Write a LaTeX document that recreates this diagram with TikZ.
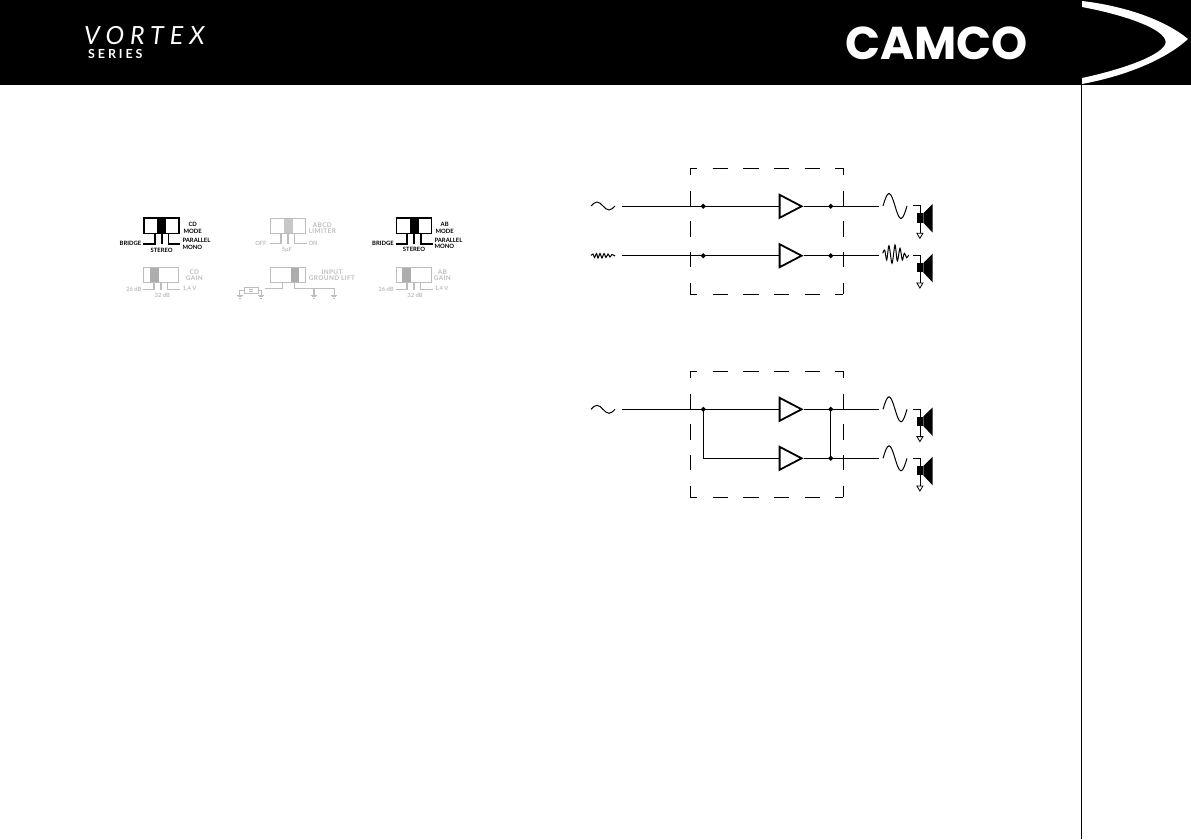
\documentclass[tikz,border=0pt]{standalone}
\usepackage{fontspec}
\setmainfont{Lato}
\newfontfamily\logofont{Poppins}
\usetikzlibrary{shapes.geometric}
\definecolor{fadegray}{gray}{0.74}
\tikzset{
    sigline/.style={line width=1.1pt, color=black},
    boxline/.style={line width=1.1pt, color=black, dash pattern=on 15.4pt off 15.3pt, dash phase=8.4pt},
    dotnode/.style={diamond, fill=black, inner sep=0pt, minimum size=5.4pt},
    ampnode/.style={draw=black, line width=1.8pt, isosceles triangle, isosceles triangle apex angle=54, isosceles triangle stretches, minimum width=23pt, minimum height=22pt, inner sep=0pt, anchor=lower side},
    wavepath/.style={line width=1pt, color=black},
    onlabel/.style={font=\bfseries\fontsize{5.9}{6.3}\selectfont, color=black, inner sep=0pt, align=center},
    offlabel/.style={font=\bfseries\fontsize{5.8}{6.3}\selectfont, color=fadegray, inner sep=0pt, align=center},
    offhead/.style={font=\addfontfeature{LetterSpace=6}\bfseries\fontsize{6.4}{6.3}\selectfont, color=fadegray, inner sep=0pt, align=center},
}
% speaker with its wire and ground arrow, x and y of the wire end
\newcommand{\speakermark}[2]{
    \begin{scope}[shift={(#1,#2)}]
        \draw[line width=0.9pt] (0,0) -- (6.7,0) -- (6.7,27.6);
        \draw[line width=0.8pt, fill=white] (3.6,27.6) -- (9.6,27.6) -- (6.6,32.6) -- cycle;
        \fill (3.7,7.6) rectangle (10,17);
        \fill (10,7.6) -- (19.4,-1.7) -- (19.4,27) -- (10,17) -- cycle;
    \end{scope}
}
% switch: x, y of the box, left edge of the handle, line colour, line width, handle colour, height of the legs
\newcommand{\switchmark}[7]{
    \begin{scope}[shift={(#1,#2)}]
        \fill[#6] (#3,0) rectangle ++(9.2,15.2);
        \draw[#4, line width=#5] (0,0) rectangle (35,15.2);
        \draw[#4, line width=#5] (17.5,15.2) -- (17.5,#7+0.6);
        \draw[#4, line width=#5] (10.5,15.2) -- (10.5,#7) -- (-1,#7);
        \draw[#4, line width=#5] (24.2,15.2) -- (24.2,#7) -- (36,#7);
    \end{scope}
}
\newcommand{\groundmark}[2]{
    \draw[fadegray, line width=0.6pt] (#1-3,#2) -- (#1+3,#2);
    \draw[fadegray, line width=0.6pt] (#1-2,#2+1.5) -- (#1+2,#2+1.5);
    \draw[fadegray, line width=0.6pt] (#1-1,#2+3) -- (#1+1,#2+3);
}
\begin{document}
\begin{tikzpicture}[x=1pt, y=-1pt]
    \useasboundingbox (0,0) rectangle (1191,839);
    % header band and side rule
    \fill[black] (0,0) rectangle (1191,85);
    \draw[line width=1pt] (1081,85) -- (1081,839);
    \fill[white] (1082,1) .. controls (1125,6) and (1165,20) .. (1188,39)
        .. controls (1165,60) and (1125,76) .. (1082,84) -- (1082,78)
        .. controls (1120,70) and (1165,55) .. (1165.7,42)
        .. controls (1165,28) and (1120,14) .. (1082,7) -- cycle;
    \node[white, inner sep=0pt, anchor=west, font=\logofont\bfseries\fontsize{46}{46}\selectfont] (camco) at (845,43) {CAMCO};
    \node[white, inner sep=0pt, anchor=west, font=\addfontfeature{LetterSpace=24}\itshape\fontsize{25}{25}\selectfont] (vortex) at (84,35.8) {VORTEX};
    \node[white, inner sep=0pt, anchor=west, font=\addfontfeature{LetterSpace=23}\bfseries\fontsize{12.5}{12.5}\selectfont] (series) at (88,53.8) {SERIES};

    % top row of switches
    \switchmark{144.3}{218.3}{12.4}{black}{1.8pt}{black}{25.4}
    \node[onlabel] (cdmode) at (192.7,228) {CD\\MODE};
    \node[onlabel, anchor=east] (cdbridge) at (141.5,243.7) {BRIDGE};
    \node[onlabel] (cdstereo) at (161.7,250) {STEREO};
    \node[onlabel, anchor=west, align=left] (cdpar) at (182.3,243.8) {PARALLEL\\MONO};
    \switchmark{270.5}{218.3}{13.5}{fadegray}{1.1pt}{black!22}{25.4}
    \node[offhead] (limiter) at (322.3,228) {ABCD\\LIMITER};
    \node[offlabel, anchor=east] (limoff) at (266.7,243.7) {OFF};
    \node[offlabel] (limmid) at (287,250) {5µF};
    \node[offlabel, anchor=west] (limon) at (308.3,243.7) {ON};
    \switchmark{396.5}{218.3}{13.5}{black}{1.8pt}{black}{25.4}
    \node[onlabel] (abmode) at (444.7,228) {AB\\MODE};
    \node[onlabel, anchor=east] (abbridge) at (394,243.7) {BRIDGE};
    \node[onlabel] (abstereo) at (414,249.5) {STEREO};
    \node[onlabel, anchor=west, align=left] (abpar) at (434.3,243.5) {PARALLEL\\MONO};

    % bottom row of switches
    \switchmark{143.5}{267.3}{6.5}{fadegray}{1.1pt}{black!32}{22}
    \node[offhead] (cdgain) at (194.3,275) {CD\\GAIN};
    \node[offlabel, anchor=east] (cdlow) at (141.7,289.3) {26 dB};
    \node[offlabel] (cdmid) at (162.3,295.7) {32 dB};
    \node[offlabel, anchor=west] (cdhigh) at (182.7,289.3) {1,4 V};
    \draw[fadegray, line width=1.1pt] (270.7,267.3) rectangle (305.7,282.7);
    \fill[black!32] (291,267.8) rectangle (299.3,282.2);
    \draw[fadegray, line width=1.1pt] (282.7,282.7) -- (282.7,288.7) -- (265,288.7);
    \draw[fadegray, line width=1.1pt] (294.3,282.7) -- (294.3,288.7) -- (334.3,288.7) -- (334.3,295);
    \draw[fadegray, line width=1.1pt] (314,288.7) -- (314,295);
    \draw[fadegray, line width=0.8pt] (244.3,287) rectangle (258,293.7);
    \draw[fadegray, line width=0.6pt] (249,289.5) -- (253,289.5) (249,291.5) -- (253,291.5);
    \draw[fadegray, line width=0.8pt] (244.3,290) -- (239.5,290) -- (239.5,295);
    \draw[fadegray, line width=0.8pt] (258,290) -- (261,290) -- (261,295);
    \groundmark{239.5}{295}
    \groundmark{261}{295}
    \groundmark{314}{295}
    \groundmark{334.3}{295}
    \node[offhead] (inputlift) at (332,275) {INPUT\\GROUND LIFT};
    \switchmark{396.5}{267.3}{5.2}{fadegray}{1.1pt}{black!32}{22}
    \node[offhead] (abgain) at (442.3,275) {AB\\GAIN};
    \node[offlabel, anchor=east] (ablow) at (394,289.3) {26 dB};
    \node[offlabel] (abmid) at (415,295.7) {32 dB};
    \node[offlabel, anchor=west] (abhigh) at (434.7,289.3) {1,4 V};

    % stereo diagram
    \draw[boxline] (690.3,168.3) -- (843.3,168.3);
    \draw[boxline] (690.3,294.3) -- (843.3,294.3);
    \draw[boxline] (690.3,168.3) -- (690.3,294.3);
    \draw[boxline] (843.3,168.3) -- (843.3,294.3);
    \coordinate (ina) at (622,206.3);
    \coordinate (inb) at (622,255.7);
    \coordinate (outa) at (879,206.3);
    \coordinate (outb) at (879,255.7);
    \node[dotnode] (joina) at (703.3,206.3) {};
    \node[dotnode] (joinb) at (703.3,255.7) {};
    \node[dotnode] (joinc) at (830.7,206.3) {};
    \node[dotnode] (joind) at (830.7,255.7) {};
    \node[ampnode] (ampa) at (778.7,206.3) {};
    \node[ampnode] (ampb) at (778.7,255.7) {};
    \draw[sigline] (ina) -- (joina.center) -- (ampa.lower side);
    \draw[sigline] (inb) -- (joinb.center) -- (ampb.lower side);
    \draw[sigline] (ampa.apex) -- (joinc.center) -- (outa);
    \draw[sigline] (ampb.apex) -- (joind.center) -- (outb);
    \draw[wavepath] (591,206) sin (597,202) cos (603,206) sin (609,210) cos (615,206);
    \draw[wavepath] plot[smooth, tension=0.5] coordinates {(591,255.5) (593,254) (594.5,257.5) (596.5,253.5) (598,258) (600,253.5) (602,258) (604,253.5) (606,257.5) (608,254) (610,257) (612,254.5) (615,256)};
    \draw[wavepath] (883,206) sin (889,193.5) cos (895,206) sin (901,218.5) cos (907,206);
    \draw[wavepath] plot[smooth, tension=0.5] coordinates {(882.7,253.3) (884.7,250) (886.7,260) (889,245.7) (892,263.3) (895,245) (897.3,261) (900,248.3) (902.3,260) (904.3,253.3) (906.7,257.7) (908.7,255)};
    \speakermark{913.3}{205.7}
    \speakermark{913.3}{255.4}

    % parallel diagram
    \draw[boxline] (690.3,371.3) -- (843.3,371.3);
    \draw[boxline] (690.3,497.3) -- (843.3,497.3);
    \draw[boxline] (690.3,371.3) -- (690.3,497.3);
    \draw[boxline] (843.3,371.3) -- (843.3,497.3);
    \coordinate (inc) at (622,409.3);
    \coordinate (outc) at (879,409.3);
    \coordinate (outd) at (879,458.3);
    \coordinate (bendc) at (703.3,458.3);
    \node[dotnode] (joine) at (703.3,409.3) {};
    \node[dotnode] (joinf) at (830.7,409.3) {};
    \node[dotnode] (joing) at (830.7,458.3) {};
    \node[ampnode] (ampc) at (778.7,409.3) {};
    \node[ampnode] (ampd) at (778.7,458.3) {};
    \draw[sigline] (inc) -- (joine.center) -- (ampc.lower side);
    \draw[sigline] (joine.center) -- (bendc) -- (ampd.lower side);
    \draw[sigline] (ampc.apex) -- (joinf.center) -- (outc);
    \draw[sigline] (ampd.apex) -- (joing.center) -- (outd);
    \draw[sigline] (joinf.center) -- (joing.center);
    \draw[wavepath] (591,409.3) sin (597,405.3) cos (603,409.3) sin (609,413.3) cos (615,409.3);
    \draw[wavepath] (883,409.3) sin (889,396.8) cos (895,409.3) sin (901,421.8) cos (907,409.3);
    \draw[wavepath] (883,458.3) sin (889,445.8) cos (895,458.3) sin (901,470.8) cos (907,458.3);
    \speakermark{913.3}{409}
    \speakermark{913.3}{458.4}
\end{tikzpicture}
\end{document}
